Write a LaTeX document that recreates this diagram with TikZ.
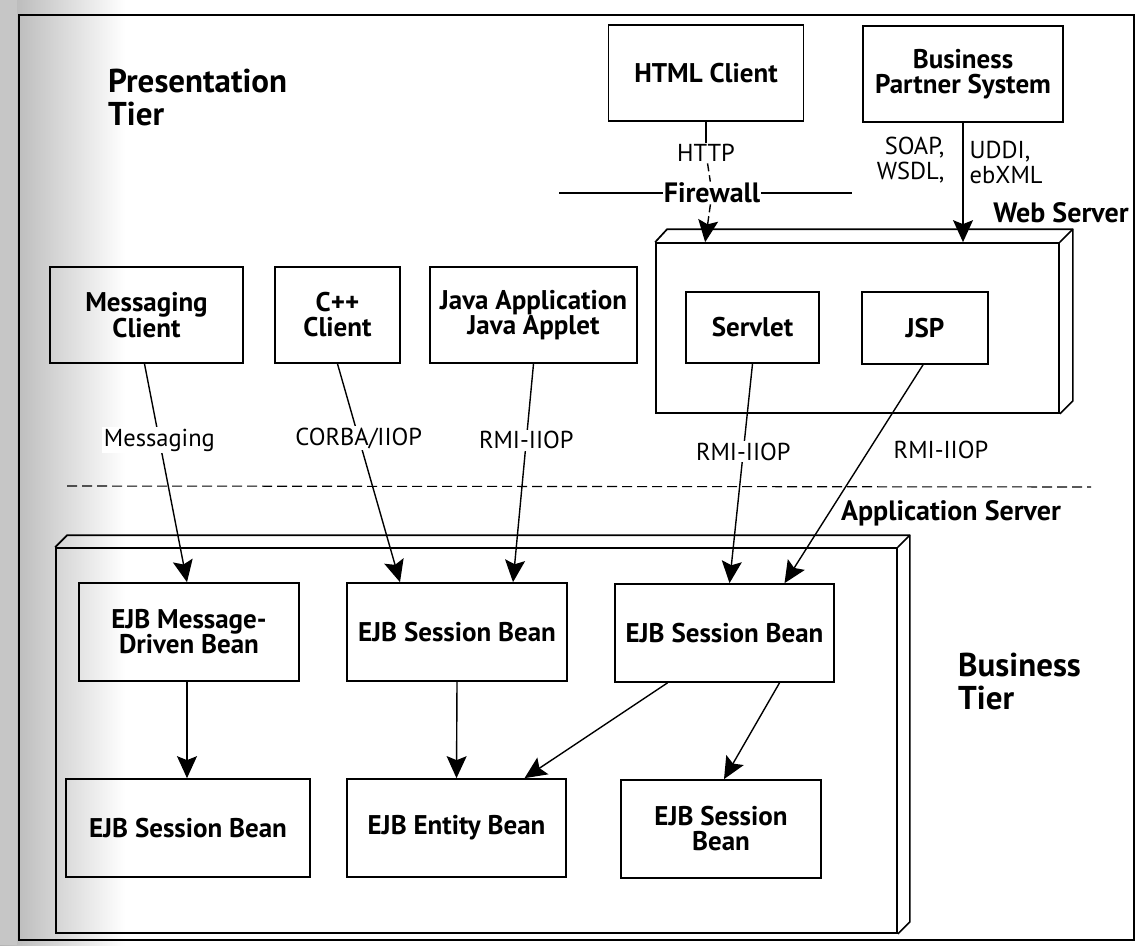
\documentclass[tikz,border=0pt]{standalone}
\usepackage{fontspec}
\setmainfont{PT Sans}
\usetikzlibrary{arrows.meta,calc}
\tikzset{
  bx/.style={draw, line width=1.7pt, inner sep=0pt, align=center, font=\bfseries\fontsize{27}{25}\selectfont},
  conn/.style={line width=1.4pt, -{Stealth[length=22pt,width=20pt,inset=4pt]}},
  plainline/.style={line width=1.4pt},
  depth/.style={line width=1.7pt, line join=round},
  proto/.style={font=\fontsize{24.5}{25}\selectfont, fill=white, inner sep=1.5pt},
  protonf/.style={font=\fontsize{24.5}{25}\selectfont, inner sep=1.5pt},
  tier/.style={font=\bfseries\fontsize{33}{33}\selectfont, align=left, inner sep=0pt},
  srv/.style={font=\bfseries\fontsize{28}{28}\selectfont, inner sep=1pt},
}
\begin{document}
\begin{tikzpicture}[x=1pt,y=-1pt]
\useasboundingbox (0,0) rectangle (1137,945);
\fill[white] (0,0) rectangle (1137,945);
% left shaded margin
\shade[left color=gray!60, right color=white] (0,0) rectangle (125,945);
\fill[gray!45] (0,0) rectangle (17,945);
% outer frame
\draw[line width=1.3pt] (19,15) rectangle (1134,940);

% tier labels
\node[tier, anchor=west] (pt) at (108,97) {Presentation\\Tier};
\node[tier, anchor=west] (bt) at (958,681) {Business\\Tier};

% top clients
\node[bx, minimum width=195pt, minimum height=96pt] (html) at (706,73) {HTML Client};
\node[bx, minimum width=200pt, minimum height=96pt] (bps) at (963,74) {Business\\Partner System};

% web server 3D box
\node[bx, minimum width=403pt, minimum height=170pt] (ws) at (857.5,328) {};
\draw[depth] (ws.north west) -- ++(12,-13) -- ($(ws.north east)+(13,-13)$) -- ($(ws.south east)+(13,-13)$) -- (ws.south east);
\draw[depth] (ws.north east) -- ++(13,-13);
\node[srv] (wsl) at (1061,213) {Web Server};
\node[bx, minimum width=133pt, minimum height=71pt] (servlet) at (752.5,327.5) {Servlet};
\node[bx, minimum width=126pt, minimum height=72pt] (jsp) at (925,328) {JSP};

% presentation clients
\node[bx, minimum width=193pt, minimum height=96pt] (msg) at (146.5,315) {Messaging\\Client};
\node[bx, minimum width=125pt, minimum height=96pt] (cpp) at (337.5,315) {C++\\Client};
\node[bx, minimum width=207pt, minimum height=96pt] (java) at (533.5,315) {Java Application\\Java Applet};

% firewall
\coordinate (fwl) at (559,193);
\coordinate (fwr) at (852,193);
\node[srv] (fw) at (712,193) {Firewall};
\draw[plainline] (fwl) -- (fw.west);
\draw[plainline] (fw.east) -- (fwr);

% HTTP connector
\node[protonf] (http) at (706,153) {HTTP};
\draw[plainline] (html) -- (http);
\draw[plainline, dash pattern=on 8pt off 4pt] (http) -- (fw);
\coordinate (wsin) at ($(ws.north west)+(50,0)$);
\draw[conn, dash pattern=on 8pt off 4pt] (fw) -- (wsin);

% Business partner connector
\draw[conn] (bps.south) -- (bps.south |- ws.north);
\node[protonf, anchor=east, align=right] (soap) at (946,160) {SOAP,\\WSDL,};
\node[protonf, anchor=west, align=left] (uddi) at (968,162) {UDDI,\\ebXML};

% tier divider
\coordinate (dl) at (67,486);
\coordinate (dr) at (1091,487);
\draw[line width=1.1pt, dash pattern=on 10pt off 5pt] (dl) -- (dr);

% application server 3D box
\node[bx, minimum width=841pt, minimum height=385pt] (as) at (476.5,740.5) {};
\draw[depth] (as.north west) -- ++(12,-12) -- ($(as.north east)+(12,-12)$) -- ($(as.south east)+(12,-12)$) -- (as.south east);
\draw[depth] (as.north east) -- ++(12,-12);
\node[srv] (asl) at (951,513) {Application Server};

% EJB boxes
\node[bx, minimum width=220pt, minimum height=98pt] (mdb) at (189,632) {EJB Message-\\Driven Bean};
\node[bx, minimum width=220pt, minimum height=98pt] (sb1) at (457,632) {EJB Session Bean};
\node[bx, minimum width=219pt, minimum height=98pt] (sb2) at (724.5,633) {EJB Session Bean};
\node[bx, minimum width=244pt, minimum height=98pt] (sb3) at (188,828) {EJB Session Bean};
\node[bx, minimum width=219pt, minimum height=98pt] (ent) at (456.5,828) {EJB Entity Bean};
\node[bx, minimum width=200pt, minimum height=98pt] (sb4) at (721,829) {EJB Session\\Bean};

% cross-tier connectors
\draw[conn] ($(msg.south)+(-2,0)$) -- node[proto, pos=0.35] {Messaging} ($(mdb.north)+(-2,0)$);
\draw[conn] (cpp.south) -- node[proto, pos=0.34] {CORBA/IIOP} ($(sb1.north)+(-57,0)$);
\draw[conn] (java.south) -- node[proto, pos=0.35] {RMI-IIOP} ($(sb1.north)+(56,0)$);
\draw[conn] (servlet.south) -- node[proto, pos=0.4] {RMI-IIOP} ($(sb2.north)+(5,0)$);
\draw[conn] ($(jsp.south)+(-2,0)$) -- ($(sb2.north)+(60,0)$);
\node[protonf] (jspl) at (941,450) {RMI-IIOP};

% business tier connectors
\draw[conn] ($(mdb.south)+(-2,0)$) -- ($(sb3.north)+(-1,0)$);
\draw[conn] (sb1.south) -- (ent.north);
\draw[conn] ($(sb2.south)+(-57,0)$) -- ($(ent.north)+(68,0)$);
\draw[conn] ($(sb2.south)+(55,0)$) -- ($(sb4.north)+(3,0)$);
\end{tikzpicture}
\end{document}
